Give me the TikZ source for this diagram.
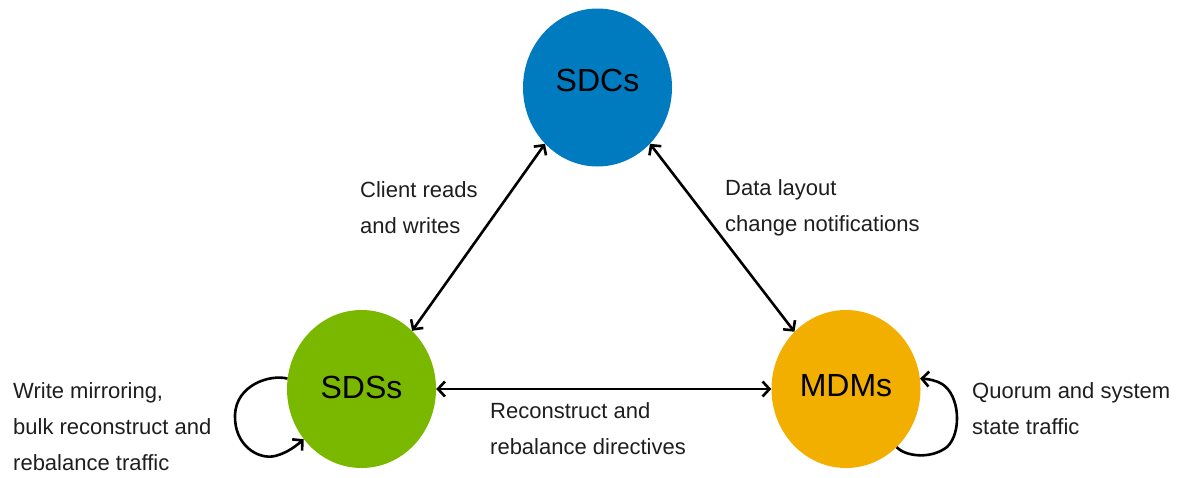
\documentclass[tikz,border=0pt]{standalone}
\usepackage{fontspec}
\setmainfont{Liberation Sans}
\usetikzlibrary{shapes.geometric,arrows.meta}
\definecolor{sdcblue}{RGB}{0,123,191}
\definecolor{sdsgreen}{RGB}{122,184,0}
\definecolor{mdmorange}{RGB}{242,175,0}
\definecolor{txt}{RGB}{30,30,30}
\begin{document}
\begin{tikzpicture}[x=1pt,y=-1pt,
  comp/.style={ellipse, minimum width=149pt, minimum height=158pt, inner sep=0pt},
  complabel/.style={font=\fontsize{32}{36}\selectfont, text=black, inner sep=0pt},
  lbl/.style={anchor=north west, inner sep=0pt, align=left, font=\fontsize{22}{36}\selectfont, text=txt},
  link/.style={line width=2.6pt, {Straight Barb[length=7pt,width=15pt]}-{Straight Barb[length=7pt,width=15pt]}},
  selfloop/.style={line width=2.6pt, -{Straight Barb[length=7pt,width=15pt]}}
]
\useasboundingbox (0,0) rectangle (1184,477);
\node[comp, fill=sdcblue, label={[complabel, yshift=7pt]center:SDCs}] (sdc) at (597.5,87.5) {};
\node[comp, fill=sdsgreen, label={[complabel, yshift=2pt]center:SDSs}] (sds) at (361.5,389) {};
\node[comp, fill=mdmorange, label={[complabel, yshift=3pt]center:MDMs}] (mdm) at (846,389) {};

\draw[link] (sdc.227) -- (sds.49);
\draw[link] (sdc.313) -- (mdm.132);
\draw[link] (sds.east) -- (mdm.west);

\draw[selfloop] (sds.172) .. controls (270,374) and (236,385) .. (235,415)
  .. controls (234,445) and (258,460) .. (275,456)
  .. controls (287,453) and (296,446) .. (sds.221);
\draw[selfloop] (mdm.311) .. controls (905,456) and (930,460) .. (947,447)
  .. controls (962,433) and (960,395) .. (942,384)
  .. controls (935,380) and (928,379) .. (mdm.8);

\node[lbl] (lclient) at (360,181) {Client reads\\and writes};
\node[lbl] (ldata) at (725,179) {Data layout\\change notifications};
\node[lbl] (lwrite) at (13,382) {Write mirroring,\\bulk reconstruct and\\rebalance traffic};
\node[lbl] (lrecon) at (490,402) {Reconstruct and\\rebalance directives};
\node[lbl] (lquorum) at (972,382) {Quorum and system\\state traffic};
\end{tikzpicture}
\end{document}
